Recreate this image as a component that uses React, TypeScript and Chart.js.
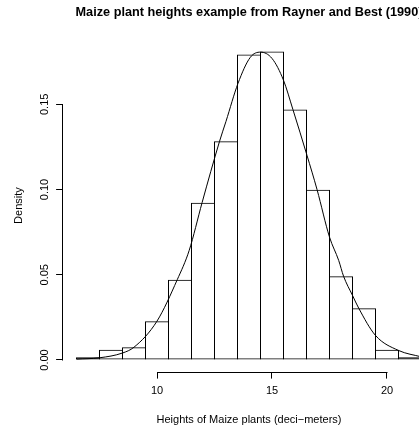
import { useEffect, useRef } from "react";
import { Chart, registerables } from "chart.js";

Chart.register(...registerables);

// Histogram bins (mid-points, width 1) and their densities
const binMids = [7, 8, 9, 10, 11, 12, 13, 14, 15, 16, 17, 18, 19, 20, 21];
const binDensity = [
  0.0016, 0.006, 0.0075, 0.0228, 0.0471, 0.0923, 0.1283, 0.1792, 0.181,
  0.1469, 0.0999, 0.0492, 0.0304, 0.006, 0.0016,
];

// Fitted density curve
const curveX = [
  6.5, 7.5, 8.5, 9.0, 10.0, 10.88, 11.4, 11.96, 12.72, 13.0, 13.52, 14.06,
  14.5, 15.0, 15.5, 15.91, 16.52, 16.96, 17.5, 17.9, 18.11, 18.5, 18.77, 19.5,
  20.5, 21.5,
];
const curveY = [
  0.0005, 0.0013, 0.0041, 0.0075, 0.0228, 0.0471, 0.0643, 0.0923, 0.1283,
  0.14, 0.1622, 0.1776, 0.1806, 0.1769, 0.1641, 0.1469, 0.1201, 0.0999,
  0.0721, 0.0584, 0.0492, 0.0379, 0.0304, 0.0144, 0.0056, 0.0018,
];

const xTicks = [10, 15, 20];
const xTickLabels = ["10", "15", "20"];
const yTicks = [0, 0.05, 0.1, 0.15];
const yTickLabels = ["0.00", "0.05", "0.10", "0.15"];
const xRange = [5.9, 22.1];
const yRange = [-0.00704, 0.18824];

const titleText = "Maize plant heights example from Rayner and Best (1990)";
const xTitle = "Heights of Maize plants (deci\u2212meters)";
const yTitle = "Density";

const FAMILY = "'Liberation Sans', Arial, Helvetica, sans-serif";

const rAxes = {
  id: "rAxes",
  afterDraw(chart: any) {
    const { ctx, chartArea } = chart;
    const x = chart.scales.x;
    const y = chart.scales.y;
    ctx.save();
    ctx.strokeStyle = "#000";
    ctx.lineWidth = 1;
    ctx.beginPath();
    const yy = Math.round(chartArea.bottom) + 0.5;
    ctx.moveTo(Math.round(x.getPixelForValue(xTicks[0])) + 0.5, yy);
    ctx.lineTo(Math.round(x.getPixelForValue(xTicks[xTicks.length - 1])) + 0.5, yy);
    const xx = Math.round(chartArea.left) - 0.5;
    ctx.moveTo(xx, Math.round(y.getPixelForValue(yTicks[0])) + 0.5);
    ctx.lineTo(xx, Math.round(y.getPixelForValue(yTicks[yTicks.length - 1])) + 0.5);
    ctx.stroke();
    ctx.restore();
  },
};

export default function App() {
  const ref = useRef<HTMLCanvasElement>(null);

  useEffect(() => {
    document.body.style.margin = "0";
    const canvas = ref.current;
    if (!canvas) return;
    const chart = new Chart(canvas, {
      type: "bar",
      data: {
        datasets: [
          {
            type: "line",
            data: curveX.map((v, i) => ({ x: v, y: curveY[i] })),
            borderColor: "#000",
            borderWidth: 1,
            pointRadius: 0,
            cubicInterpolationMode: "monotone",
            fill: false,
            order: 0,
          } as any,
          {
            type: "bar",
            data: binMids.map((v, i) => ({ x: v, y: binDensity[i] })),
            backgroundColor: "rgba(255,255,255,0)",
            borderColor: "#000",
            borderWidth: 1,
            borderSkipped: false,
            // slight overlap so neighbouring borders share one 1px line
            barPercentage: 24 / 23,
            categoryPercentage: 1,
            grouped: false,
            order: 1,
          } as any,
        ],
      },
      options: {
        responsive: false,
        animation: false,
        events: [],
        layout: { padding: { left: 0, right: 44.7, top: 0, bottom: 0 } },
        plugins: {
          legend: { display: false },
          tooltip: { enabled: false },
          title: {
            display: true,
            text: titleText,
            color: "#000",
            fullSize: false,
            font: { family: FAMILY, size: 12.7, weight: "bold", lineHeight: 1.2 },
            padding: { top: 5, bottom: 18.86 },
          },
        },
        scales: {
          x: {
            type: "linear",
            min: xRange[0],
            max: xRange[1],
            offset: false,
            bounds: "data",
            afterBuildTicks: (s: any) => {
              s.ticks = xTicks.map((v) => ({ value: v }));
            },
            afterFit: (s: any) => {
              s.height = 56;
            },
            border: { display: false },
            grid: {
              offset: false,
              drawOnChartArea: false,
              drawTicks: true,
              tickLength: 6.6,
              color: "#000",
              lineWidth: 1,
            },
            ticks: {
              autoSkip: false,
              maxRotation: 0,
              minRotation: 0,
              padding: 5.3,
              color: "#000",
              font: { family: FAMILY, size: 11 },
              callback: (_v: any, i: number) => xTickLabels[i],
            },
            title: {
              display: true,
              text: xTitle,
              color: "#000",
              font: { family: FAMILY, size: 11, lineHeight: 1.2 },
              padding: { top: 0, bottom: 1.7 },
            },
          },
          y: {
            type: "linear",
            min: yRange[0],
            max: yRange[1],
            offset: false,
            bounds: "data",
            afterBuildTicks: (s: any) => {
              s.ticks = yTicks.map((v) => ({ value: v }));
            },
            afterFit: (s: any) => {
              s.width = 62.7;
            },
            border: { display: false },
            grid: {
              offset: false,
              drawOnChartArea: false,
              drawTicks: true,
              tickLength: 6.6,
              color: "#000",
              lineWidth: 1,
            },
            ticks: {
              autoSkip: false,
              minRotation: 90,
              maxRotation: 90,
              crossAlign: "center",
              padding: 0.1,
              color: "#000",
              font: { family: FAMILY, size: 11 },
              callback: (_v: any, i: number) => yTickLabels[i],
            },
            title: {
              display: true,
              text: yTitle,
              color: "#000",
              font: { family: FAMILY, size: 11, lineHeight: 1.2 },
              padding: { top: 12.3, bottom: 0 },
            },
          },
        },
      },
      plugins: [rAxes],
    });
    return () => chart.destroy();
  }, []);

  return (
    <div
      style={{
        width: 419,
        height: 428,
        overflow: "hidden",
        position: "relative",
        background: "#fff",
      }}
    >
      <canvas
        ref={ref}
        width={480}
        height={428}
        style={{ position: "absolute", left: 0, top: 0, width: 480, height: 428 }}
      />
    </div>
  );
}
